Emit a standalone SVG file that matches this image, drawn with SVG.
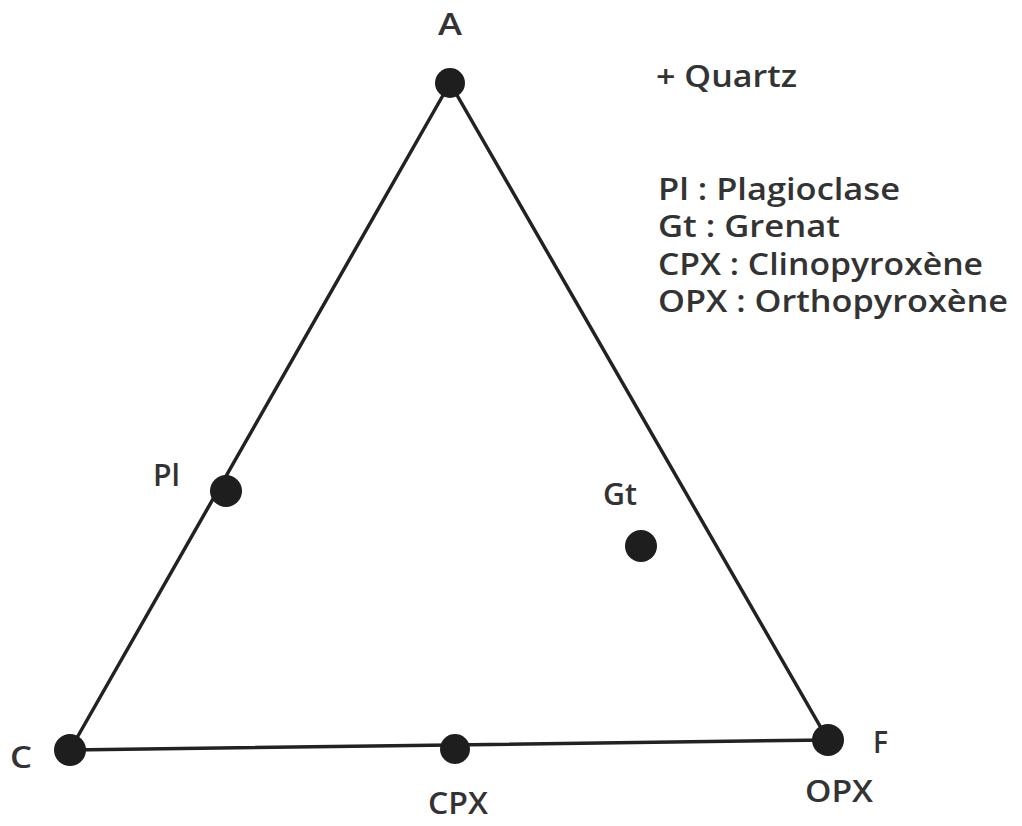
<svg xmlns="http://www.w3.org/2000/svg" width="1022" height="826" viewBox="0 0 1022 826">
<style>
text{font-family:"Open Sans","Liberation Sans",sans-serif;font-size:30px;font-weight:600;fill:#333;}
.edge{stroke:#222;stroke-width:3.5;fill:none;stroke-linecap:round;}
.dot{fill:#1e1e1e;}
</style>
<rect width="1022" height="826" fill="#fff"/>
<g id="connectors">
<line class="edge" x1="450" y1="83" x2="70" y2="750"/>
<line class="edge" x1="450" y1="83" x2="828" y2="740"/>
<line class="edge" x1="70" y1="750" x2="828" y2="740"/>
</g>
<g id="node-A"><circle class="dot" cx="450" cy="83" r="15"/><text x="438" y="35" textLength="24" lengthAdjust="spacingAndGlyphs">A</text></g>
<g id="node-C"><circle class="dot" cx="70" cy="750" r="16"/><text x="10" y="768" textLength="22" lengthAdjust="spacingAndGlyphs">C</text></g>
<g id="node-F"><circle class="dot" cx="828" cy="740" r="16"/><text x="873" y="753" textLength="15" lengthAdjust="spacingAndGlyphs">F</text><text x="805" y="802" textLength="68" lengthAdjust="spacingAndGlyphs">OPX</text></g>
<g id="node-CPX"><circle class="dot" cx="455" cy="749" r="15"/><text x="428" y="814" textLength="60" lengthAdjust="spacingAndGlyphs">CPX</text></g>
<g id="node-Pl"><circle class="dot" cx="226" cy="491" r="16"/><text x="153" y="486" textLength="27" lengthAdjust="spacingAndGlyphs">Pl</text></g>
<g id="node-Gt"><circle class="dot" cx="641" cy="546" r="16"/><text x="603" y="505" textLength="34" lengthAdjust="spacingAndGlyphs">Gt</text></g>
<g id="legend">
<text x="656" y="87" textLength="141" lengthAdjust="spacingAndGlyphs">+ Quartz</text>
<text x="658" y="200" textLength="242" lengthAdjust="spacingAndGlyphs">Pl : Plagioclase</text>
<text x="658" y="237" textLength="182" lengthAdjust="spacingAndGlyphs">Gt : Grenat</text>
<text x="658" y="275" textLength="325" lengthAdjust="spacingAndGlyphs">CPX : Clinopyroxène</text>
<text x="658" y="312" textLength="350" lengthAdjust="spacingAndGlyphs">OPX : Orthopyroxène</text>
</g>
</svg>
